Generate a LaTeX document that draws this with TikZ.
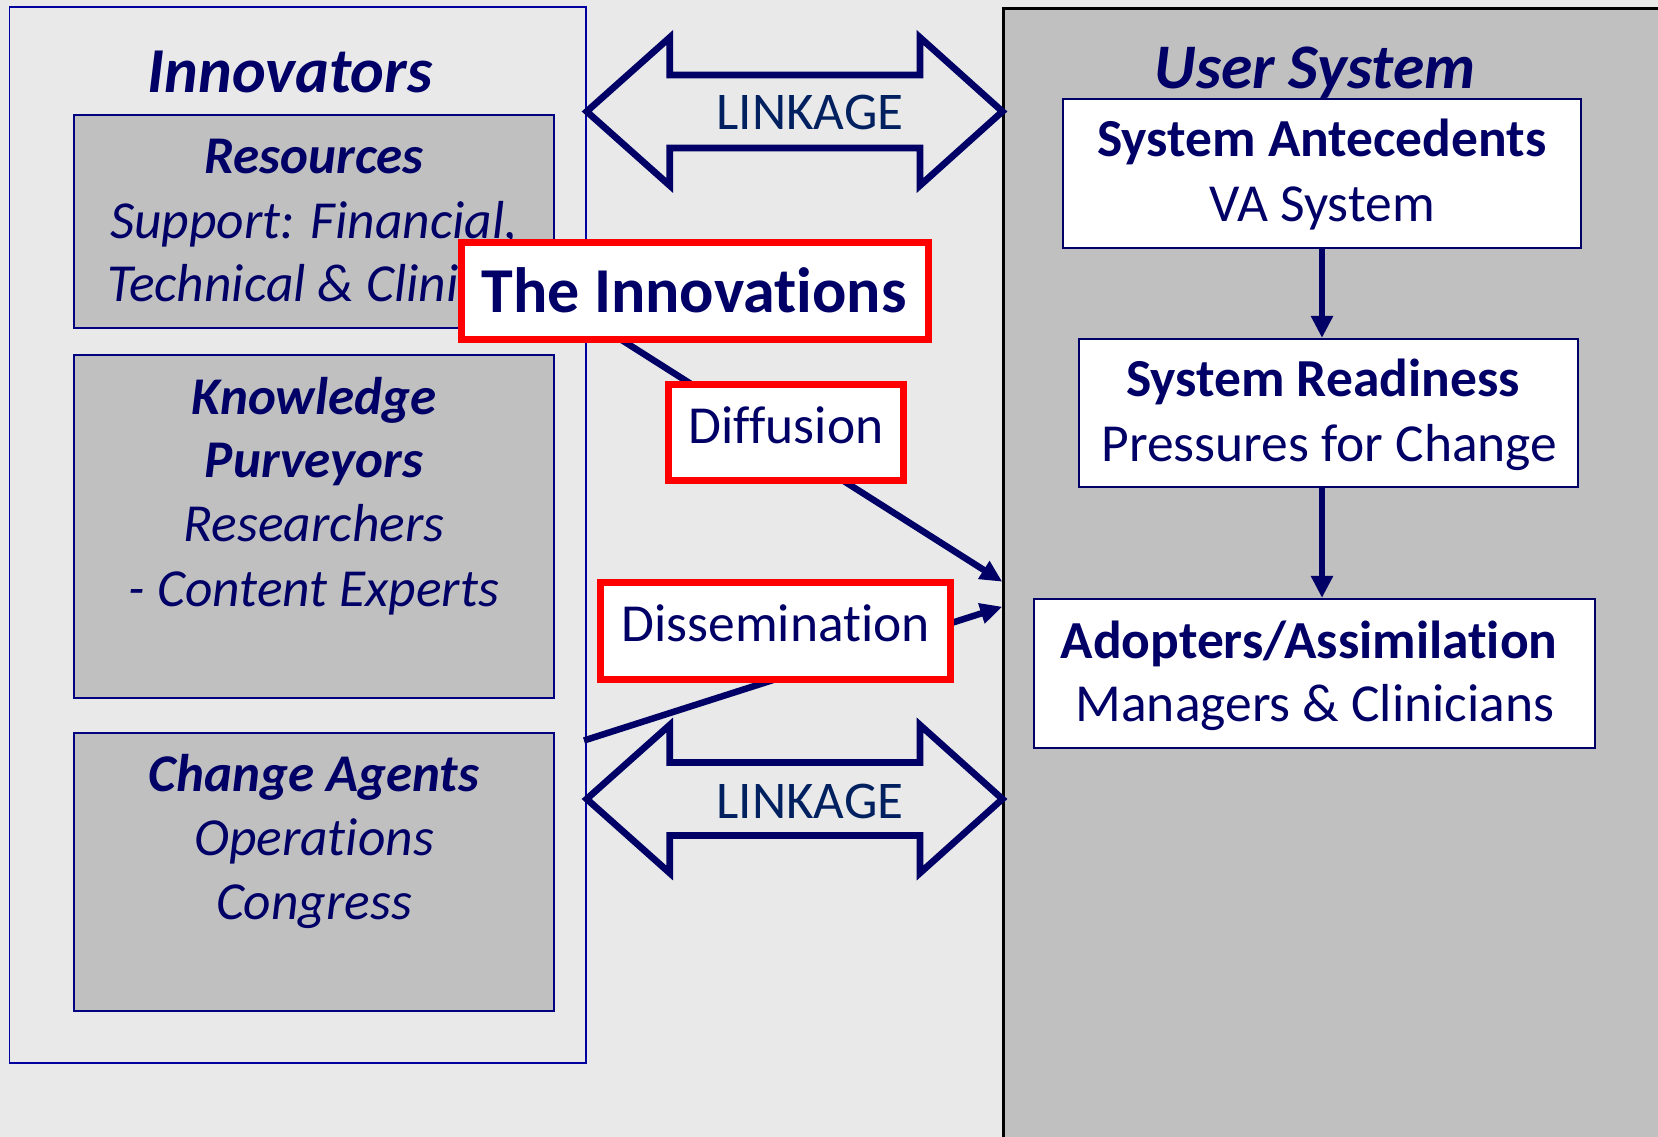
\documentclass[tikz,border=0pt]{standalone}
\usepackage{fontspec}
\setmainfont[Ligatures=NoCommon]{Carlito}
\usetikzlibrary{arrows.meta}
\definecolor{bgc}{RGB}{233,233,233}
\definecolor{boxgray}{RGB}{192,192,192}
\definecolor{navyc}{RGB}{0,0,102}
\definecolor{linkc}{RGB}{0,32,96}
\definecolor{outerblue}{RGB}{0,0,160}
\definecolor{innerblue}{RGB}{0,0,128}
\definecolor{redc}{RGB}{255,0,0}
\newcommand\fsz[1]{\fontsize{#1}{#1}\selectfont}
\begin{document}
\begin{tikzpicture}[x=1pt,y=-1pt,
  txt/.style={text=navyc, inner sep=0pt, anchor=base},
  title/.style={txt, font=\fsz{64}\bfseries\itshape},
  ihead/.style={txt, font=\fsz{53}\bfseries\itshape},
  ibody/.style={txt, font=\fsz{53.5}\itshape},
  rhead/.style={txt, font=\fsz{53.5}\bfseries},
  rbody/.style={txt, font=\fsz{53.5}},
  graybox/.style={rectangle, draw=innerblue, line width=2pt, fill=boxgray, inner sep=0pt},
  whitebox/.style={rectangle, draw=navyc, line width=2.2pt, fill=white, inner sep=0pt},
  redbox/.style={rectangle, draw=redc, line width=7pt, fill=white, inner sep=0pt},
  linkarrow/.style={draw=navyc, line width=6.7pt, line join=miter, miter limit=10},
  linktext/.style={text=linkc, inner sep=0pt, anchor=base, font=\fsz{53}},
  conn/.style={draw=navyc, line width=6.5pt, -{Triangle[length=22pt,width=20pt]}},
  vconn/.style={draw=navyc, line width=6.5pt, -{Triangle[length=22pt,width=21pt]}}
]
\useasboundingbox (0,0) rectangle (1658,1137);
\clip (0,0) rectangle (1658,1137);
\fill[bgc] (0,0) rectangle (1658,1137);

% Innovators column
\node[rectangle, draw=outerblue, line width=1.8pt, inner sep=0pt,
      minimum width=576.3pt, minimum height=1055.3pt] (innbox) at (297.65,535.05) {};
\node[title] (innt) at (290,93) {Innovators};

\node[graybox, minimum width=480pt, minimum height=213.3pt] (res) at (314,221.7) {};
\node[ihead] (res1) at (314,174) {Resources};
\node[ibody] (res2) at (314,238) {Support: Financial,};
\node[ibody] (res3) at (314,301.7) {Technical \& Clinical};

\node[graybox, minimum width=480pt, minimum height=342.7pt] (kp) at (314,526.4) {};
\node[ihead] (kp1) at (314,414) {Knowledge};
\node[ihead] (kp2) at (314,477.3) {Purveyors};
\node[ibody] (kp3) at (314,541.7) {Researchers};
\node[ibody] (kp4) at (314,606.7) {- Content Experts};

\node[graybox, minimum width=480pt, minimum height=278.3pt] (ca) at (314,871.9) {};
\node[ihead] (ca1) at (314,791.7) {Change Agents};
\node[ibody] (ca2) at (314,855) {Operations};
\node[ibody] (ca3) at (314,919.3) {Congress};

% User System column
\node[rectangle, draw=black, line width=2.3pt, fill=boxgray, inner sep=0pt,
      minimum width=720pt, minimum height=1200pt, anchor=north west] (us) at (1002.3,7.4) {};
\node[title, font=\fsz{63.5}\bfseries\itshape] (ust) at (1315,88.3) {User System};

\node[whitebox, minimum width=518pt, minimum height=148.7pt] (sa) at (1322,173.35) {};
\node[rhead] (sa1) at (1322,157) {System Antecedents};
\node[rbody] (sa2) at (1322,221.7) {VA System};

\node[whitebox, minimum width=499pt, minimum height=148.3pt] (sr) at (1328.5,413.15) {};
\node[rhead] (sr1) at (1323,396.7) {System Readiness};
\node[rbody] (sr2) at (1329.5,461.7) {Pressures for Change};

\node[whitebox, minimum width=561pt, minimum height=148.7pt] (ad) at (1314.5,673.35) {};
\node[rhead] (ad1) at (1309,658) {Adopters/Assimilation};
\node[rbody] (ad2) at (1315,721.7) {Managers \& Clinicians};

\draw[vconn] (sa.south) -- (sa.south |- sr.north);
\draw[vconn] (sr.south -| sa.south) -- (sa.south |- ad.north);

% LINKAGE double arrows
\draw[linkarrow] (586.7,111.5) -- (669.7,37.5) -- (669.7,75) -- (920,75) -- (920,37.5)
  -- (1002.4,111.5) -- (920,185.5) -- (920,148) -- (669.7,148) -- (669.7,185.5) -- cycle;
\node[linktext] (lk1) at (810,130) {LINKAGE};
\begin{scope}[shift={(0,687.5)}]
\draw[linkarrow] (586.7,111.5) -- (669.7,37.5) -- (669.7,75) -- (920,75) -- (920,37.5)
  -- (1002.4,111.5) -- (920,185.5) -- (920,148) -- (669.7,148) -- (669.7,185.5) -- cycle;
\end{scope}
\node[linktext] (lk2) at (810,818.3) {LINKAGE};

% connectors (behind red boxes)
\coordinate (dfstart) at (545,291.3);
\coordinate (dftip) at (1002.3,581.7);
\coordinate (dsstart) at (584,740.5);
\coordinate (dstip) at (1002.3,606.7);
\draw[conn] (dfstart) -- (dftip);
\draw[conn] (dsstart) -- (dstip);

% red boxes
\node[redbox, minimum width=467pt, minimum height=97pt] (innov) at (695,291.3) {};
\node[txt, font=\fsz{64}\bfseries] (innovt) at (694,312.7) {The Innovations};

\node[redbox, minimum width=235pt, minimum height=96pt] (diff) at (786,432.5) {};
\node[rbody] (difft) at (786,443) {Diffusion};

\node[redbox, minimum width=350pt, minimum height=97pt] (diss) at (775.5,631) {};
\node[rbody] (disst) at (775.7,641.7) {Dissemination};
\end{tikzpicture}
\end{document}
